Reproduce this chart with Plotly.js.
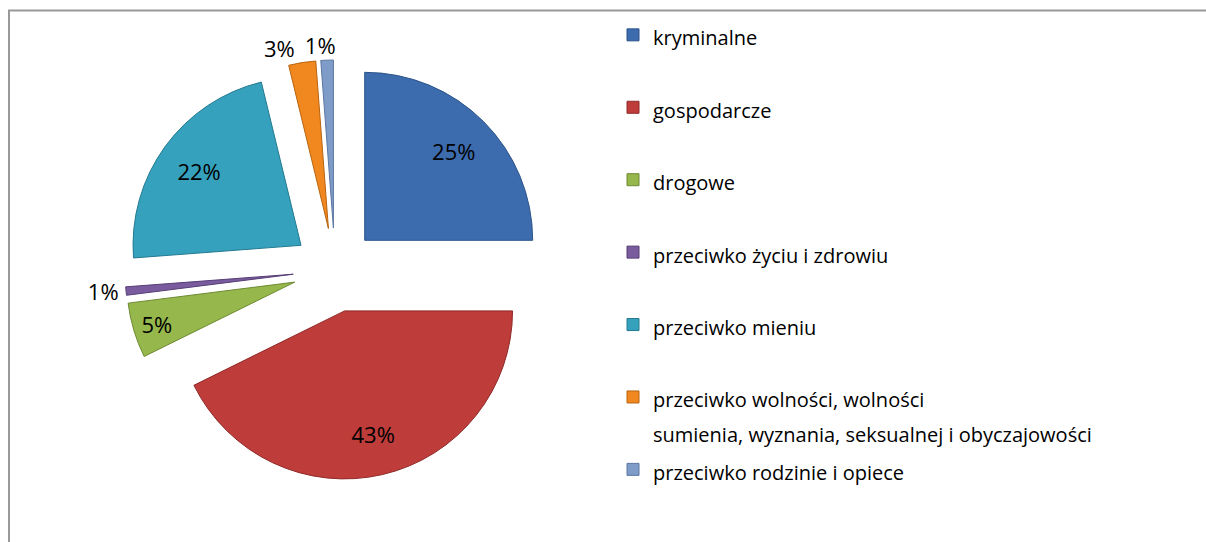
<!DOCTYPE html>
<html>
<head>
<meta charset="utf-8">
<script src="https://cdn.plot.ly/plotly-3.0.1.min.js"></script>
<style>
  html, body { margin: 0; padding: 0; background: #ffffff; }
  #chart { width: 1206px; height: 542px; }
</style>
</head>
<body>
<div id="chart"></div>
<script>
// ---- data ----
const categories = [
  "kryminalne",
  "gospodarcze",
  "drogowe",
  "przeciwko życiu i zdrowiu",
  "przeciwko mieniu",
  "przeciwko wolności, wolności<br>sumienia, wyznania, seksualnej i obyczajowości",
  "przeciwko rodzinie i opiece"
];
const shares = [25.0, 42.7, 5.3, 0.8, 22.4, 2.6, 1.2];
const sliceColors = ["#3d6cae", "#be3c3a", "#95b74b", "#7a5b9e", "#36a1bd", "#f0871f", "#7f9bc8"];
const edgeColors  = ["#2c5388", "#8f2a28", "#6e8a33", "#573f76", "#237a90", "#b9640f", "#5c77a3"];
// which layer draws each slice's percentage label (split so neighbouring small labels are not pushed apart)
const labelsOnSlice = ["none", "none", "none", "outside", "none", "outside", "none"];
const labelsOnRing  = ["inside", "inside", "inside", "none", "inside", "none", "none"];
const labelsOnTop   = ["none", "none", "none", "none", "none", "none", "outside"];

// legend labels: two lines per entry, symbol aligned with the first line
const NB = "\u00a0";
const legendLabels = categories.map(function (c) {
  const lines = c.split("<br>").map(function (l) {
    return '<span style="font-size:20px">' + l + '</span>';
  });
  let s = lines.join("<br>");
  if (lines.length === 1) s += "<br>" + NB;
  return s;
});

const W = 1206, H = 542;
const cx = 335, cy = 270, halfSide = 210;
function makeDomain(dx) {
  return {
    x: [(cx + dx - halfSide) / W, (cx + dx + halfSide) / W],
    y: [(H - cy - halfSide) / H, (H - cy + halfSide) / H]
  };
}
const labelFont = { family: "Open Sans", size: 22, color: "#000000" };
const clear = sliceColors.map(function () { return "rgba(0,0,0,0)"; });

function pieLayer(opts) {
  return Object.assign({
    type: "pie",
    labels: legendLabels,
    values: shares,
    sort: false,
    direction: "clockwise",
    rotation: 0,
    pull: 0.25,
    texttemplate: "%{percent:.0%}",
    insidetextorientation: "horizontal",
    textfont: labelFont,
    insidetextfont: labelFont,
    outsidetextfont: labelFont,
    hoverinfo: "none",
    domain: makeDomain(0),
    showlegend: false
  }, opts);
}

const slices = pieLayer({
  marker: { colors: sliceColors, line: { color: edgeColors, width: 1 } },
  textposition: labelsOnSlice,
  showlegend: true
});

// transparent ring layer: places the inside labels further out, as in the reference
const ringLabels = pieLayer({
  hole: 0.5,
  marker: { colors: clear, line: { width: 0 } },
  textposition: labelsOnRing
});

// transparent layer for the last small label, set beside the 3% label
const topLabels = pieLayer({
  marker: { colors: clear, line: { width: 0 } },
  textposition: labelsOnTop,
  domain: makeDomain(16)
});

const layout = {
  width: W,
  height: H,
  margin: { l: 0, r: 0, t: 0, b: 0, autoexpand: false },
  paper_bgcolor: "#ffffff",
  plot_bgcolor: "#ffffff",
  font: { family: "Open Sans", color: "#000000" },
  showlegend: true,
  legend: {
    x: 613 / W,
    xanchor: "left",
    y: 1 - 11 / H,
    yanchor: "top",
    valign: "top",
    font: { family: "Open Sans", size: 26.7, color: "#000000" },
    bgcolor: "rgba(0,0,0,0)",
    borderwidth: 0,
    traceorder: "normal"
  },
  shapes: [
    { type: "line", xref: "paper", yref: "paper", x0: 8 / W, x1: 1, y0: 1 - 10.5 / H, y1: 1 - 10.5 / H,
      line: { color: "#999999", width: 2 } },
    { type: "line", xref: "paper", yref: "paper", x0: 9 / W, x1: 9 / W, y0: 1 - 10 / H, y1: 0,
      line: { color: "#999999", width: 2 } }
  ]
};

Plotly.newPlot("chart", [slices, ringLabels, topLabels], layout, { displayModeBar: false, staticPlot: true });
</script>
</body>
</html>
